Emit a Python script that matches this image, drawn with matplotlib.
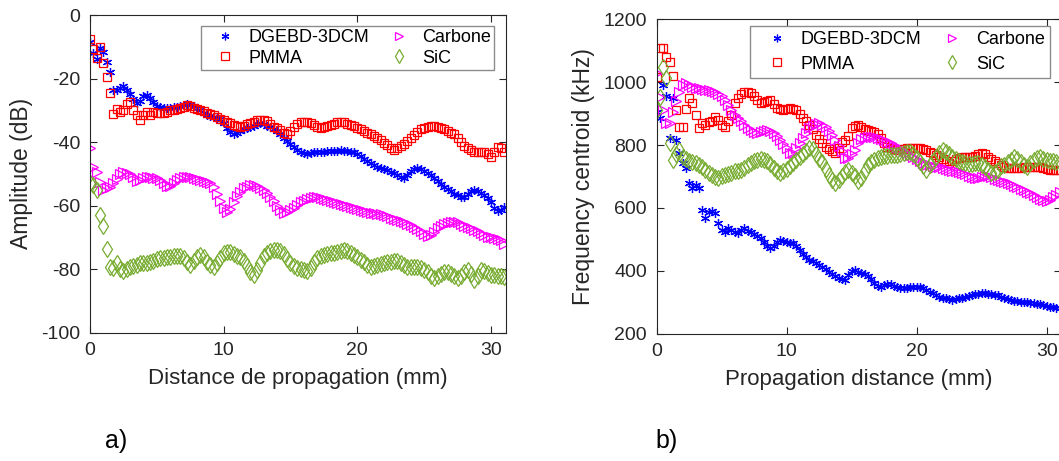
import numpy as np
import matplotlib
matplotlib.use('Agg')
import matplotlib.pyplot as plt

plt.rcParams['font.family'] = ['Liberation Sans', 'DejaVu Sans']
plt.rcParams['axes.unicode_minus'] = False

# propagation distance (mm), sampled every 0.25 mm
distance = np.arange(0, 31.01, 0.25)

labels = ['DGEBD-3DCM', 'PMMA', 'Carbone', 'SiC']

# a) amplitude (dB)
amp_dgebd = [-8.5, -12, -14, -10.5, -11.5, -14.7, -18, -23.5,
             -23.5, -23, -22.5, -23.5, -25, -26.5, -27.8, -27,
             -25.5, -25.2, -26, -27.5, -28.5, -29, -29.4, -29.3,
             -29.2, -29, -28.9, -28.5, -28.2, -28, -28.3, -28.8,
             -29.4, -30, -30.8, -31.5, -31.8, -32, -32.3, -32.8,
             -34, -35.5, -36.8, -37.3, -37, -36.5, -36, -35.6,
             -35.2, -34.8, -34.3, -34.1, -34.4, -34.9, -35.4, -35.8,
             -36.6, -37.6, -38.7, -39.6, -40.6, -41.6, -42.5, -43.1,
             -43.4, -43.6, -43.4, -43.2, -43, -43, -43, -42.9,
             -42.9, -42.8, -42.7, -42.6, -42.7, -42.9, -43, -43.2,
             -43.8, -44.5, -45.3, -46, -46.7, -47.3, -47.8, -48.3,
             -48.6, -48.9, -49.3, -49.8, -50.4, -50.9, -51.2, -50.3,
             -49.2, -48.5, -48.3, -48.6, -49.1, -49.6, -50.3, -51.4,
             -52.4, -53.2, -54, -54.8, -55.5, -56.2, -56.8, -57.3,
             -57.2, -56.4, -55.5, -55.1, -55.3, -55.9, -56.8, -57.7,
             -59, -60.6, -61.8, -61.5, -60.4]
amp_pmma = [-7.7, -10.6, -13.5, -10.2, -15, -19.5, -24.5, -31.2,
            -29.5, -30.5, -29.9, -28, -27.5, -30, -31.5, -33,
            -31.5, -30.5, -31.5, -30.5, -31, -30.7, -30.8, -30.5,
            -30, -29.8, -29.6, -29.4, -28.9, -28.3, -28.6, -29.2,
            -29.6, -29.9, -30.3, -30.8, -31.2, -31.5, -32.1, -32.7,
            -33.2, -33.6, -34.1, -34.6, -35, -35.2, -34.8, -34.3,
            -33.9, -33.6, -33.2, -33, -32.9, -33.4, -34.2, -35.2,
            -35.6, -36.3, -37, -37.3, -36.5, -35.3, -34.3, -33.8,
            -33.6, -33.8, -34.1, -34.6, -35.2, -35.7, -35.4, -35,
            -34.6, -34.2, -33.8, -33.6, -33.8, -34.2, -34.6, -35,
            -35.6, -36, -36.4, -37, -37.5, -38, -38.6, -39.5,
            -40.3, -41, -41.8, -42.5, -42, -41.3, -40.5, -39.6,
            -38.6, -37.7, -36.8, -36, -35.5, -35.2, -35, -35,
            -35.2, -35.5, -35.9, -36.4, -37, -37.6, -38.6, -40,
            -41.2, -42, -42.6, -43, -43.2, -43, -43.2, -43.8,
            -44.6, -43, -41.5, -42, -43]
amp_carbone = [-42, -47.8, -49.4, -52.5, -55, -54.6, -54, -53,
               -51.5, -50.2, -49.5, -49.7, -50, -51, -52.2, -52,
               -51.3, -50.9, -51, -51.3, -51.4, -52, -53, -53.8,
               -53.8, -53, -52, -51.4, -51, -50.9, -50.9, -51.2,
               -51.6, -52, -52.4, -52.7, -53, -54, -56.2, -58.5,
               -60.9, -62, -61, -58.8, -57, -55.6, -54.6, -54,
               -53.6, -53.5, -53.8, -54.4, -55.1, -56, -57.2, -58.5,
               -60, -61.5, -62.2, -62, -61.5, -60.6, -59.8, -59,
               -58.4, -57.9, -57.5, -57.2, -57.3, -57.6, -58, -58.3,
               -58.6, -58.9, -59.1, -59.4, -59.8, -60.2, -60.5, -60.9,
               -61.2, -61.5, -61.8, -62, -62.2, -62.3, -62.5, -62.7,
               -63, -63.4, -63.8, -64.1, -64.5, -64.9, -65.3, -65.7,
               -66.2, -66.7, -67.3, -68, -68.8, -69.6, -69.3, -68.2,
               -67.2, -66.5, -65.9, -65.5, -65.2, -65.1, -65.3, -65.8,
               -66.3, -66.8, -67.2, -67.6, -68, -68.6, -69.3, -69.8,
               -70, -70.2, -70.4, -70.8, -72]
amp_sic = [-53, -53.5, -55.1, -62.8, -66.4, -73.8, -79.2, -79.5,
           -78.2, -80, -80.6, -80, -79.3, -79, -78.7, -78.2,
           -78.2, -78, -77.7, -77.3, -76.9, -76.6, -76.4, -76.2,
           -76.1, -76, -75.9, -75.9, -76.5, -77.6, -78.7, -77.5,
           -76.2, -75.6, -76.3, -77.6, -78.8, -79.3, -78, -76.4,
           -75, -74.5, -74.7, -75.3, -75.8, -76.2, -77.4, -79,
           -80.8, -81.9, -80.4, -78, -76, -75, -74.4, -74.1,
           -74, -74.2, -75.2, -76.7, -78, -78.9, -79.6, -80,
           -80.3, -80.6, -79.5, -77.6, -76.6, -76, -75.5, -75.2,
           -75, -74.9, -74.6, -74.2, -74, -74.3, -75, -75.7,
           -76.2, -77, -77.9, -78.7, -79.2, -79.1, -78.7, -78.3,
           -78.1, -77.9, -77.6, -77.3, -77.4, -78, -78.6, -79.2,
           -79.4, -79.2, -79.3, -79.7, -80.2, -81, -82, -82.8,
           -82.3, -81.5, -81, -80.8, -81.5, -82.3, -82.9, -82,
           -81, -80.3, -81.5, -83.4, -82, -80.4, -80.7, -81.3,
           -81.7, -81.9, -82.1, -82.3, -82.4]

# b) frequency centroid (kHz)
fc_dgebd = [906, 885, 991, 955, 821, 949, 816, 774,
            742, 726, 678, 662, 673, 665, 593, 567,
            588, 590, 583, 551, 530, 524, 535, 530,
            522, 519, 530, 535, 528, 524, 518, 512,
            503, 492, 480, 472, 478, 492, 497, 494,
            493, 488, 487, 478, 466, 455, 445, 436,
            430, 425, 419, 413, 405, 397, 389, 383,
            378, 374, 371, 388, 400, 402, 397, 393,
            389, 384, 373, 361, 352, 350, 355, 359,
            358, 353, 349, 346, 344, 345, 347, 349,
            350, 349, 345, 340, 334, 328, 323, 318,
            315, 312, 309, 307, 309, 312, 315, 318,
            320, 322, 325, 327, 328, 328, 327, 325,
            323, 322, 318, 313, 309, 306, 304, 303,
            302, 302, 300, 298, 297, 296, 293, 290,
            288, 286, 284, 283, 282]
fc_pmma = [1015, 1110, 1110, 1081, 1065, 1020, 910, 858,
           858, 914, 950, 935, 896, 853, 870, 864,
           872, 878, 888, 880, 864, 858, 875, 896,
           933, 950, 962, 968, 970, 965, 955, 942,
           933, 936, 939, 942, 930, 917, 914, 912,
           915, 918, 916, 912, 900, 885, 875, 864,
           850, 832, 818, 805, 795, 788, 782, 776,
           790, 810, 816, 830, 853, 860, 864, 858,
           852, 848, 845, 840, 836, 822, 806, 795,
           790, 786, 784, 786, 788, 790, 790, 790,
           790, 790, 787, 783, 779, 774, 769, 763,
           756, 749, 742, 748, 755, 760, 763, 763,
           763, 763, 766, 770, 774, 770, 763, 756,
           750, 742, 735, 731, 728, 727, 726, 726,
           727, 729, 731, 731, 731, 731, 729, 726,
           724, 722, 720, 720, 720]
fc_carbone = [1028, 954, 912, 869, 869, 905, 940, 970,
              990, 996, 990, 986, 983, 980, 978, 976,
              974, 971, 968, 963, 955, 942, 928, 910,
              896, 886, 876, 864, 855, 848, 842, 838,
              840, 845, 848, 844, 837, 828, 816, 802,
              790, 776, 775, 790, 806, 822, 837, 855,
              862, 866, 869, 863, 856, 846, 833, 815,
              798, 780, 760, 758, 770, 785, 808, 818,
              823, 826, 827, 825, 823, 820, 815, 810,
              805, 800, 795, 789, 782, 775, 768, 762,
              755, 748, 742, 738, 735, 733, 731, 729,
              726, 723, 721, 719, 716, 713, 710, 707,
              703, 699, 695, 696, 698, 700, 700, 697,
              693, 689, 686, 683, 679, 675, 670, 666,
              661, 656, 651, 646, 640, 634, 628, 624,
              622, 626, 634, 642, 650]
fc_sic = [912, 954, 1049, 1012, 806, 753, 770, 784,
          763, 755, 749, 745, 742, 737, 730, 722,
          712, 705, 697, 696, 703, 706, 709, 712,
          716, 719, 722, 727, 735, 743, 748, 753,
          755, 753, 748, 740, 728, 717, 710, 716,
          725, 733, 742, 752, 763, 773, 782, 790,
          786, 772, 757, 745, 725, 705, 688, 680,
          690, 703, 715, 721, 712, 700, 686, 695,
          717, 735, 745, 752, 758, 762, 764, 766,
          767, 767, 768, 771, 775, 778, 779, 770,
          758, 745, 732, 722, 735, 750, 763, 775,
          784, 778, 770, 763, 756, 750, 745, 742,
          741, 741, 742, 742, 738, 730, 720, 712,
          713, 722, 732, 738, 746, 754, 762, 755,
          745, 736, 731, 742, 752, 760, 762, 757,
          752, 750, 748, 746, 745]

colors = ['#0000FF', '#FF0000', '#FF00FF', '#77AC30']
markers = [(6, 2, 0), 's', '>', 'D']
msizes = [6.5, 6, 7.5, 6]
axcol = '#262626'

fig = plt.figure(figsize=(10.59, 4.61), dpi=100)
ax1 = fig.add_axes([90/1059, 1-332.7/461, 415.7/1059, 317.7/461])
ax2 = fig.add_axes([656.7/1059, 1-333.7/461, 404.3/1059, 314.4/461])


def draw(ax, series):
    lines = []
    for y, c, m, s, lab in zip(series, colors, markers, msizes, labels):
        ln, = ax.plot(distance, y, linestyle='none', marker=m, ms=s, mew=0.9,
                      mec=c, mfc='none' if m != (6, 2, 0) else c, label=lab)
        lines.append(ln)
    # MATLAB-style diamond: a bit narrower than square
    lines[3].set_marker('d')
    lines[3].set_markersize(8)
    ax.set_xlim(0, 31.1)
    ax.set_xticks([0, 10, 20, 30])
    ax.tick_params(direction='in', top=True, right=True, length=5, width=0.8,
                   labelsize=14, colors=axcol, pad=7)
    for sp in ax.spines.values():
        sp.set_color(axcol)
        sp.set_linewidth(0.8)


draw(ax1, [amp_dgebd, amp_pmma, amp_carbone, amp_sic])
ax1.set_ylim(-100, 0)
ax1.set_yticks(np.arange(-100, 1, 20))
ax1.set_xlabel('Distance de propagation (mm)', fontsize=16, color=axcol, labelpad=6)
ax1.set_ylabel('Amplitude (dB)', fontsize=16.5, color=axcol, labelpad=6)
leg1 = ax1.legend(ncol=2, loc='upper right', bbox_to_anchor=(0.972, 0.965),
                  borderaxespad=0, fontsize=13, borderpad=0.16, labelspacing=0.2,
                  handlelength=2.26, handletextpad=0.17, columnspacing=0.53,
                  fancybox=False, framealpha=1, edgecolor='#8c8c8c', markerscale=0.85)
leg1.get_frame().set_linewidth(1.0)

draw(ax2, [fc_dgebd, fc_pmma, fc_carbone, fc_sic])
ax2.set_ylim(200, 1200)
ax2.set_yticks(np.arange(200, 1201, 200))
ax2.set_xlabel('Propagation distance (mm)', fontsize=16, color=axcol, labelpad=6)
ax2.set_ylabel('Frequency centroid (kHz)', fontsize=16.5, color=axcol, labelpad=6)
leg2 = ax2.legend(ncol=2, loc='upper left', bbox_to_anchor=(0.231, 0.979),
                  borderaxespad=0, fontsize=13, borderpad=0.31, labelspacing=0.4,
                  handlelength=2.4, handletextpad=0.1, columnspacing=0.5,
                  fancybox=False, framealpha=1, edgecolor='#8c8c8c', markerscale=0.85)
leg2.get_frame().set_linewidth(1.0)

fig.text(105/1059, 1-441/461, 'a)', fontsize=18, va='center', ha='left')
fig.text(655/1059, 1-441/461, 'b)', fontsize=18, va='center', ha='left')

fig.savefig('out.png', dpi=100)
